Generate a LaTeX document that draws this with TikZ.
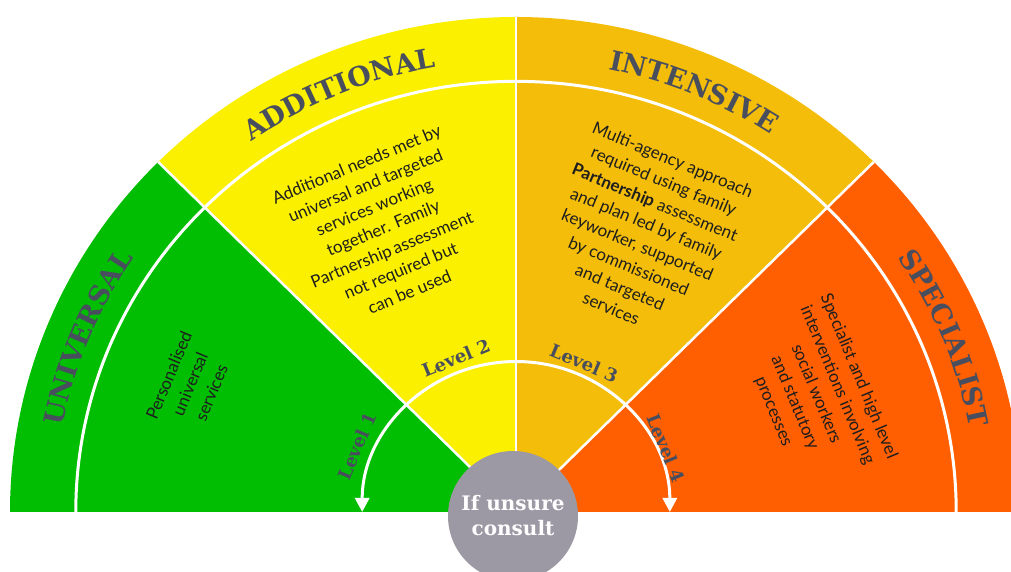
\documentclass[tikz,border=0pt]{standalone}
\usepackage{fontspec}
\usetikzlibrary{arrows.meta,decorations.text}
\newfontfamily\slab{DejaVu Serif}
\newfontfamily\bodyf{Lato}
\definecolor{cgreen}{RGB}{2,190,2}
\definecolor{cyellow}{RGB}{250,240,0}
\definecolor{camber}{RGB}{244,189,10}
\definecolor{corange}{RGB}{255,95,0}
\definecolor{cgray}{RGB}{157,153,164}
\definecolor{ctitle}{RGB}{72,78,94}
\definecolor{ctext}{RGB}{30,30,30}
\begin{document}
\begin{tikzpicture}[x=1pt,y=1pt,
  sep/.style={white, line width=2.5pt},
  bodytext/.style={align=center, font=\bodyf\fontsize{17}{23}\selectfont, text=ctext, inner sep=0pt},
  lvl/.style={font=\slab\bfseries\fontsize{18}{20}\selectfont, text=ctitle, inner sep=0pt},
  bandtitle/.style={decorate, decoration={text along path, text align=center,
     text={|\slab\bfseries\fontsize{27}{27}\selectfont\color{ctitle}|#1}}},
]
\useasboundingbox (0,0) rectangle (1011,572);
\clip (0,0) rectangle (1011,572);
\begin{scope}[shift={(516,60)}, x=5.06pt, y=4.95pt]
  \coordinate (c) at (0,0);
  \fill[cgreen]  (c) -- (180:100) arc[start angle=180,end angle=135,radius=100] -- cycle;
  \fill[cyellow] (c) -- (135:100) arc[start angle=135,end angle=90,radius=100] -- cycle;
  \fill[camber]  (c) -- (90:100) arc[start angle=90,end angle=45,radius=100] -- cycle;
  \fill[corange] (c) -- (45:100) arc[start angle=45,end angle=0,radius=100] -- cycle;
  \coordinate (b1) at (135:100);
  \coordinate (b2) at (90:100);
  \coordinate (b3) at (45:100);
  \draw[sep] (c) -- (b1);
  \draw[sep] (c) -- (b2);
  \draw[sep] (c) -- (b3);
  \draw[sep, line width=3pt] (180:87) arc[start angle=180,end angle=0,radius=87];
  \path[bandtitle=UNIVERSAL] (178:91.3) arc[start angle=178,end angle=137,radius=91.3];
  \path[bandtitle=ADDITIONAL] (133:91.3) arc[start angle=133,end angle=92,radius=91.3];
  \path[bandtitle=INTENSIVE] (88:91.3) arc[start angle=88,end angle=47,radius=91.3];
  \path[bandtitle=SPECIALIST] (43:91.3) arc[start angle=43,end angle=2,radius=91.3];
  \draw[white, line width=3pt, {Triangle[width=14pt,length=14pt]}-{Triangle[width=14pt,length=14pt]}]
     (180:30.4) arc[start angle=180,end angle=0,radius=30.4];
\end{scope}
\node[bodytext, rotate=67.5] (tuni) at (190,188) {Personalised\\universal\\services};
\node[bodytext, rotate=22.5] (tadd) at (383,344) {Additional needs met by\\universal and targeted\\services working\\together. Family\\Partnership\,assessment\\not required but\\can be used};
\node[bodytext, rotate=-22.5] (tint) at (642,338) {Multi-agency approach\\required using family\\\textbf{Partnership} assessment\\and plan led by family\\keyworker, supported\\by commissioned\\and targeted\\services};
\node[bodytext, rotate=-67.5] (tspe) at (816,178) {Specialist and high level\\interventions involving\\social workers\\and statutory\\processes};
\node[lvl, rotate=67.5] (l1) at (357,126) {Level 1};
\node[lvl, rotate=22.5] (l2) at (456,214) {Level 2};
\node[lvl, rotate=-22.5] (l3) at (584,209) {Level 3};
\node[lvl, rotate=-67.5] (l4) at (666,124) {Level 4};
\node[circle, fill=cgray, minimum size=130pt, inner sep=0pt] (consult) at (513,56) {};
\node[align=center, text=white, font=\slab\bfseries\fontsize{20}{25}\selectfont, inner sep=0pt] (consulttext) at (consult.center) {If unsure\\consult};
\end{tikzpicture}
\end{document}
